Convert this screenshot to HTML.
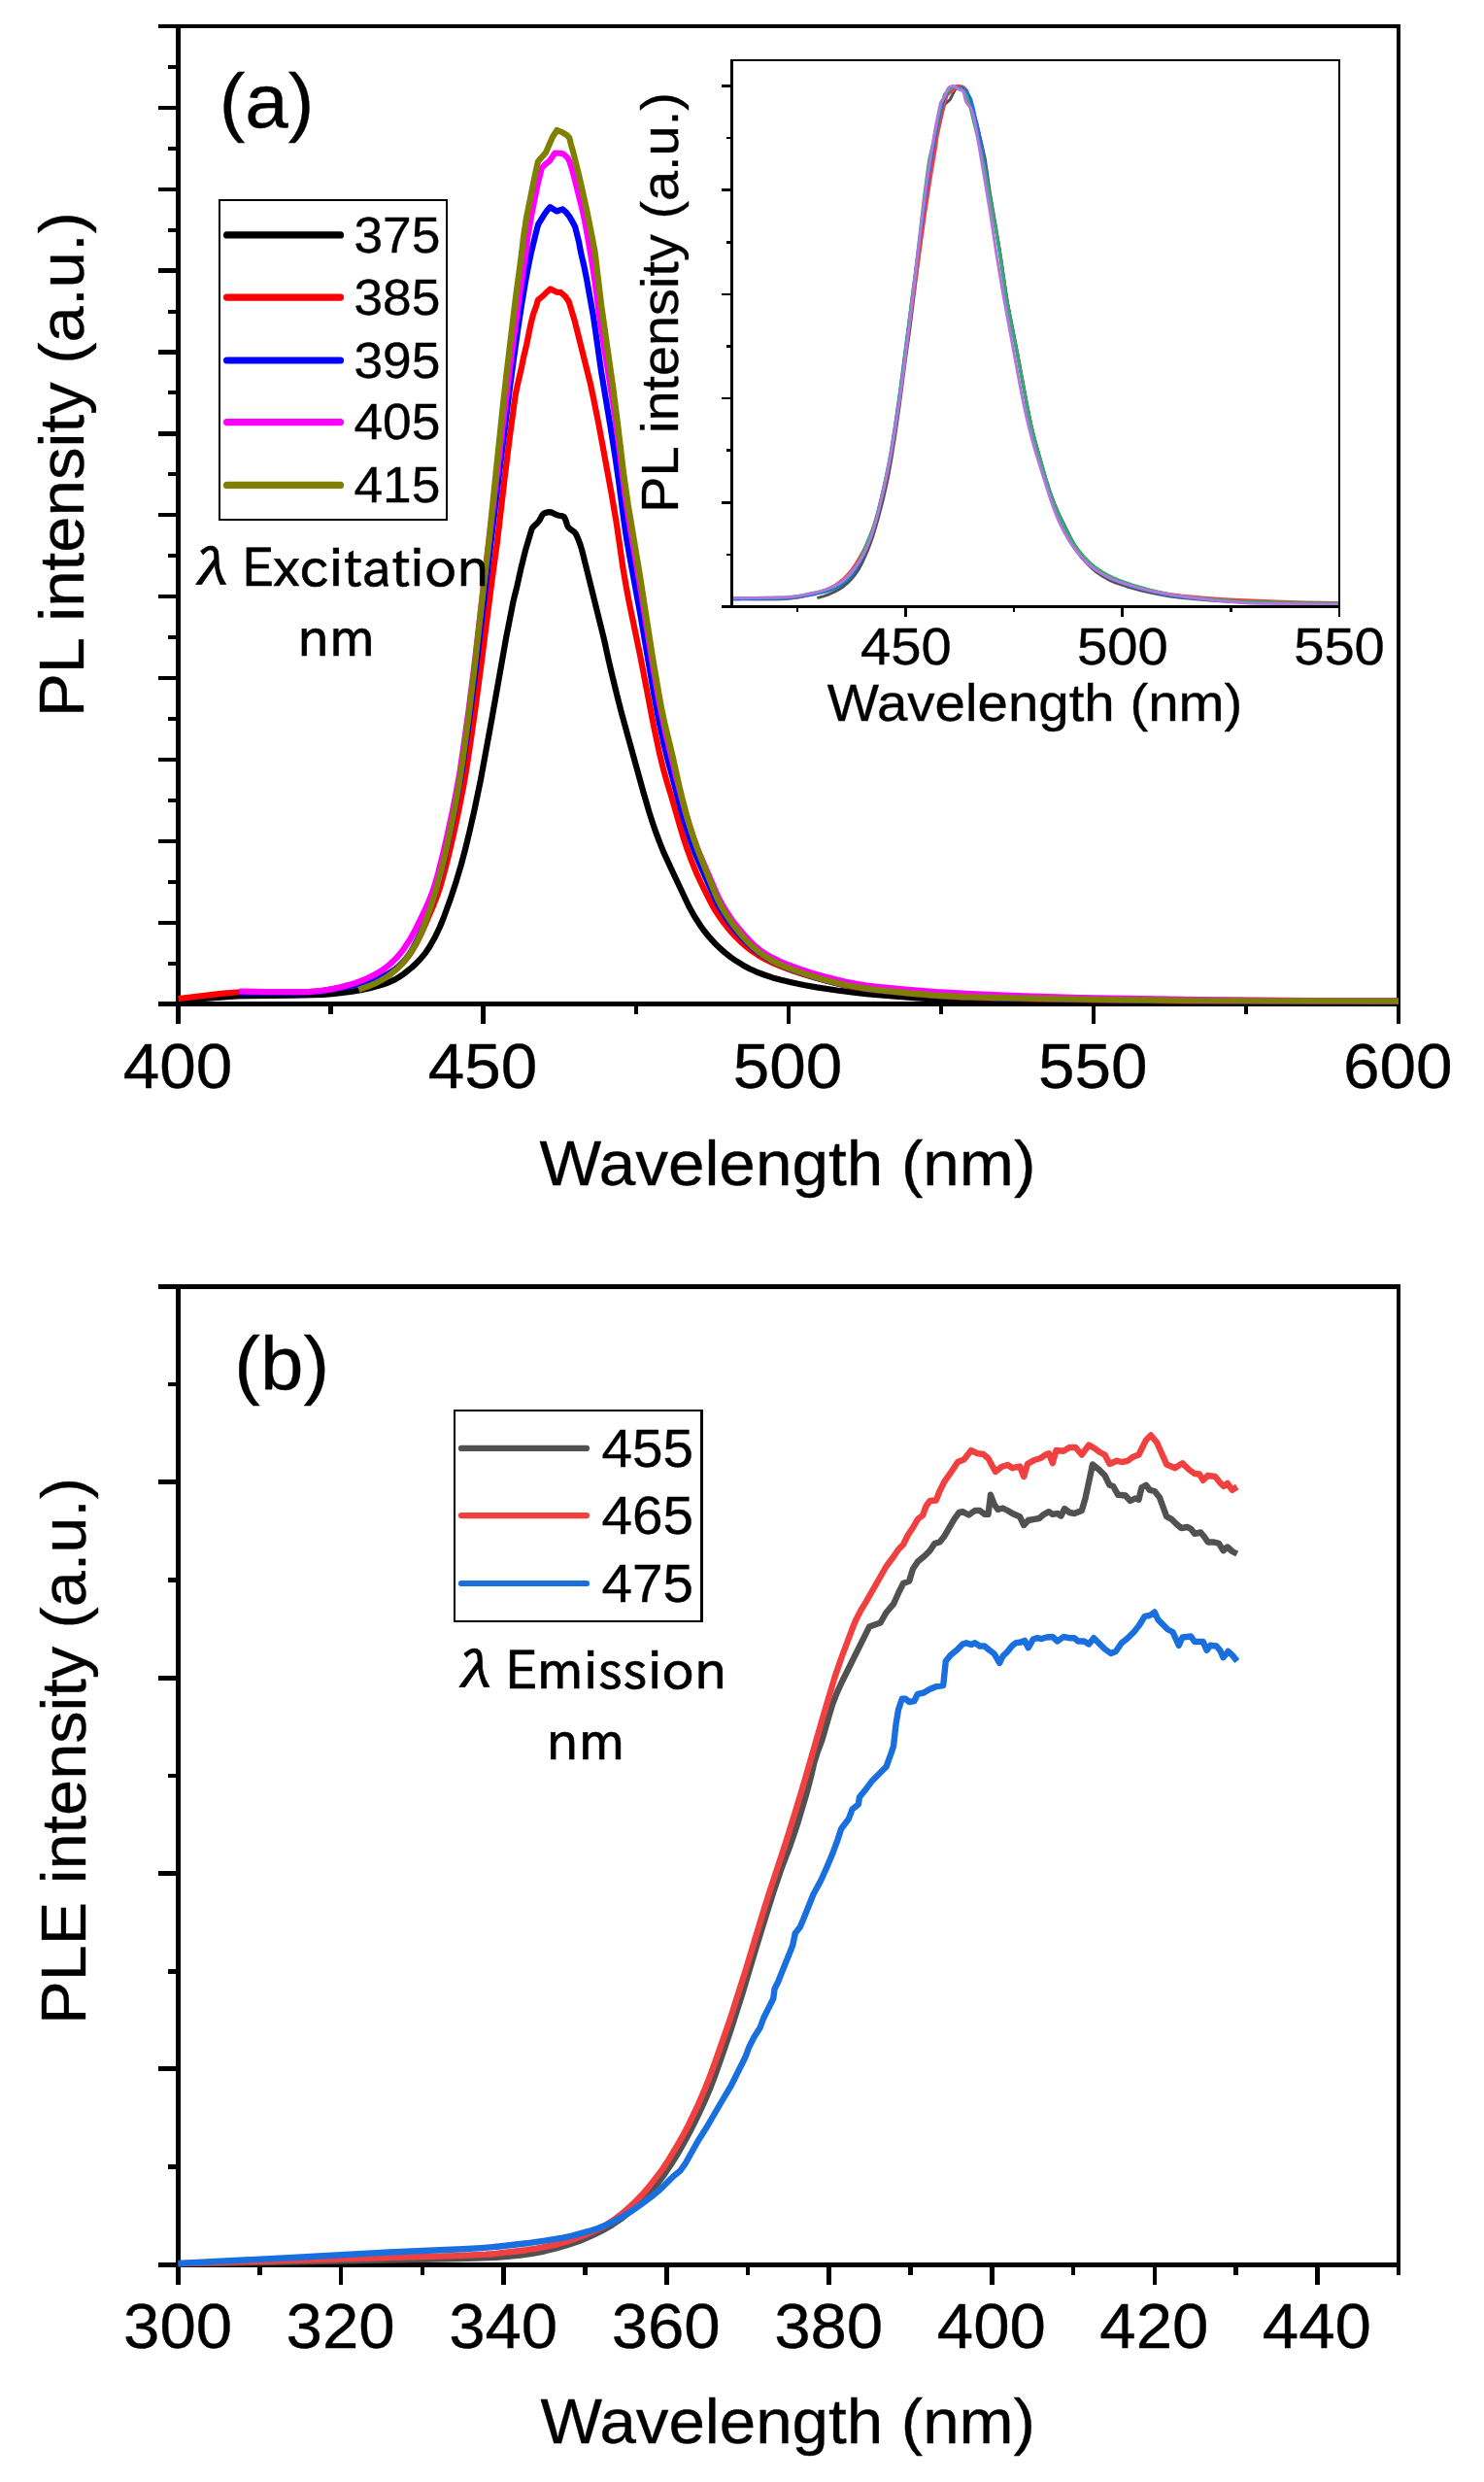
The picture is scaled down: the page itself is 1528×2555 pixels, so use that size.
<!DOCTYPE html>
<html lang="en"><head><meta charset="utf-8"><title>PL and PLE spectra</title>
<style>html,body{margin:0;padding:0;background:#fff}svg{display:block}text{font-family:"Liberation Sans", Arial, Helvetica, sans-serif;fill:#000;stroke:#000;stroke-width:.35px}.j{font-family:"IPAPGothic", "IPAGothic", "Noto Sans CJK JP", sans-serif;stroke-width:.7px}</style></head><body>
<svg width="1528" height="2555" viewBox="0 0 1528 2555">
<rect width="1528" height="2555" fill="#fff"/>
<g id="panel-a">
<g fill="#000" shape-rendering="crispEdges">
<rect x="181.1" y="24.6" width="5" height="1011.2"/>
<rect x="1437.9" y="24.6" width="4.2" height="1011.2"/>
<rect x="181.1" y="24.8" width="1261" height="4.3"/>
<rect x="181.1" y="1031.3" width="1261" height="4.6"/>
<rect x="163.1" y="24.8" width="18.4" height="4.3"/>
<rect x="163.1" y="108.6" width="18.4" height="4.3"/>
<rect x="163.1" y="192.5" width="18.4" height="4.3"/>
<rect x="163.1" y="276.4" width="18.4" height="4.3"/>
<rect x="163.1" y="360.3" width="18.4" height="4.3"/>
<rect x="163.1" y="444.2" width="18.4" height="4.3"/>
<rect x="163.1" y="528.1" width="18.4" height="4.3"/>
<rect x="163.1" y="611.9" width="18.4" height="4.3"/>
<rect x="163.1" y="695.8" width="18.4" height="4.3"/>
<rect x="163.1" y="779.7" width="18.4" height="4.3"/>
<rect x="163.1" y="863.6" width="18.4" height="4.3"/>
<rect x="163.1" y="947.5" width="18.4" height="4.3"/>
<rect x="163.1" y="1031.4" width="18.4" height="4.3"/>
<rect x="172.9" y="66.8" width="8.6" height="4"/>
<rect x="172.9" y="150.7" width="8.6" height="4"/>
<rect x="172.9" y="234.6" width="8.6" height="4"/>
<rect x="172.9" y="318.5" width="8.6" height="4"/>
<rect x="172.9" y="402.4" width="8.6" height="4"/>
<rect x="172.9" y="486.3" width="8.6" height="4"/>
<rect x="172.9" y="570.1" width="8.6" height="4"/>
<rect x="172.9" y="654" width="8.6" height="4"/>
<rect x="172.9" y="737.9" width="8.6" height="4"/>
<rect x="172.9" y="821.8" width="8.6" height="4"/>
<rect x="172.9" y="905.7" width="8.6" height="4"/>
<rect x="172.9" y="989.6" width="8.6" height="4"/>
<rect x="181.3" y="1033.5" width="4.6" height="20"/>
<rect x="495.4" y="1033.5" width="4.6" height="20"/>
<rect x="809.5" y="1033.5" width="4.6" height="20"/>
<rect x="1123.6" y="1033.5" width="4.6" height="20"/>
<rect x="1437.7" y="1033.5" width="4.6" height="20"/>
<rect x="338.4" y="1033.5" width="4.4" height="10"/>
<rect x="652.5" y="1033.5" width="4.4" height="10"/>
<rect x="966.6" y="1033.5" width="4.4" height="10"/>
<rect x="1280.8" y="1033.5" width="4.4" height="10"/>
</g>
<clipPath id="ca"><rect x="182.9" y="26.9" width="1257.6" height="1009"/></clipPath>
<g clip-path="url(#ca)" fill="none" stroke-width="6.2" stroke-linejoin="round" stroke-linecap="butt">
<path d="M183.6 1030 L230.2 1026.3 L243.7 1025.5 L255.7 1025.2 L302.4 1024.7 L332.5 1023.8 L341.5 1023.1 L350.5 1022.1 L362.5 1020.6 L371.4 1019.2 L381.6 1016.9 L393.2 1013.8 L400.3 1011.3 L407 1008.1 L410.8 1005.9 L415.8 1002.5 L424 995.9 L428.4 991.9 L431.5 988.7 L434.5 985.3 L437.3 981.9 L442.4 974.4 L447.6 965.3 L452.8 954.5 L457.3 943.3 L464 924.9 L469.6 907.7 L474.8 890.4 L479.4 872.9 L483.6 855.4 L488.3 834.8 L495 802.3 L506.4 740.1 L521 657.3 L528.5 619.1 L532.5 602.9 L536.7 583.9 L541.4 565.1 L547 546.4 L547.9 543.8 L549.6 541.7 L551.8 539.8 L553.7 537.8 L555.4 535.6 L556.8 533.2 L558.1 530.6 L559.9 528.7 L562.5 527.6 L565.3 527.1 L567.9 527.4 L570.5 528.8 L573 529.9 L575.7 530.7 L578.6 531.1 L580.7 532 L582.1 534.7 L583.1 537.4 L583.9 540.1 L584.9 542.5 L586.9 544.4 L591.5 547.8 L593.1 549.9 L595.4 555.1 L597.4 560.3 L599 565.6 L619.8 649.2 L622.4 660 L626.2 677.6 L629.6 692.3 L636 718.6 L640.1 734.6 L662.5 815.7 L668.4 835.9 L671.6 845.9 L675 855.9 L679.2 867.2 L683.1 876.9 L690.6 893.3 L709.2 932.7 L715 943.2 L721.5 953.3 L725.9 959.3 L730.7 965.2 L735.7 970.7 L741 975.9 L746.7 980.9 L752.6 985.5 L758.8 989.7 L765.2 993.7 L771.8 997.2 L778.6 1000.3 L787 1003.5 L795.5 1006.4 L804.2 1008.8 L815.9 1011.5 L827.7 1014 L841 1016.4 L861.8 1019.5 L881.2 1021.9 L894.6 1023.3 L941 1027.2 L975.5 1029.4 L989.1 1030.1 L1001.1 1030.4 L1100.3 1031.3 L1440 1031.8" stroke="#000000"/>
<path d="M183.6 1028 L229.9 1022.6 L243.3 1021.5 L255.3 1021.2 L310.9 1021.3 L318.4 1021.1 L325.9 1020.7 L333.4 1019.9 L342.3 1018.4 L361.5 1014.8 L373.2 1012.3 L383.3 1009.5 L391.8 1006.4 L399.8 1002.5 L403.6 1000.2 L407.3 997.6 L413 992.9 L416.1 989.7 L419 986.3 L421.7 982.7 L424.2 979 L429.4 969.9 L434 960.4 L446.5 931.5 L450.3 921.7 L453.2 913.2 L457.3 898.7 L462.5 878.3 L467.6 856.4 L472.6 832.8 L477.2 809.3 L480.3 791.5 L484.8 761.8 L490.1 724.6 L496.6 675.4 L505.9 602.3 L511.8 559.2 L520 489 L525 448.7 L530.2 410 L531.8 400.9 L537.2 377.2 L539.4 366.4 L542 355.7 L546.4 334.1 L549.1 323.3 L552.3 314.7 L553.9 308.8 L559.3 304.4 L563.6 300.1 L566.8 297.4 L573.3 300.7 L577.6 301.2 L581.9 305 L585.7 310.4 L591.6 329.8 L607.8 394.5 L611.1 410 L616.4 436.5 L629.5 507.5 L635 540.1 L641.7 586.2 L645 605.4 L648.1 621.6 L659.1 674.6 L673.3 748.4 L678.6 773.4 L683.2 792.4 L686 802.5 L692.5 824.1 L700.4 851.5 L703.9 863 L707.7 874.4 L711.3 884.3 L714.6 892.7 L717.5 899.6 L721.3 907.8 L730 925.3 L733.4 931.9 L736.4 937.1 L740.5 943.4 L744 948.3 L748.6 954.2 L753.4 959.9 L757.5 964.4 L762.8 969.6 L767.3 973.6 L773.2 978.2 L780.6 983.2 L788.5 987.7 L796.5 991.6 L806.2 995.7 L816.1 999.3 L827.5 1003.1 L840.4 1006.9 L852.1 1010.1 L865.2 1013.2 L875.5 1015.4 L885.8 1017.2 L894.8 1018.5 L905.2 1019.7 L944.1 1023.5 L972.6 1025.6 L996.6 1026.8 L1037.1 1027.9 L1094.2 1028.8 L1167.9 1029.9 L1219 1030.3 L1333.2 1030.8 L1439.9 1030.9" stroke="#ff0000"/>
<path d="M246.4 1022 L306.6 1021.7 L317.1 1021.4 L326.1 1020.8 L332 1020.1 L339.5 1019 L367.5 1013.5 L379.2 1010.8 L387.8 1008 L396 1004.5 L399.9 1002.3 L403.8 1000 L407.4 997.4 L410.8 994.5 L416 989.2 L418.8 985.7 L421.4 982.1 L423.8 978.3 L426.8 973.1 L431.4 963.7 L436.7 951.2 L442.6 935.7 L447.4 921.5 L451.6 907 L456.1 889.6 L461.2 867.6 L466.5 842.6 L471.9 814.5 L475.8 792.3 L482.2 747.6 L489.1 695.4 L514.3 484.8 L524.9 399.7 L529.3 366.9 L533.3 338.5 L536.9 314.8 L540.6 292.5 L543.6 276.2 L546.9 260 L552.8 235.9 L554.4 230.5 L560.4 220.8 L563.6 216.4 L566.3 213.2 L573.3 217.5 L579.2 215.4 L583 218.6 L586.3 222.9 L589.5 228.3 L592.2 233.7 L596 248.8 L598.1 260 L601.2 273.2 L603.9 286.4 L610.8 324.9 L613 339.7 L618.9 381.4 L628.3 437.7 L633.9 473.3 L637.1 495.6 L642.2 534.4 L644.8 552.2 L648.1 571.5 L659.5 633.5 L673.4 715 L678.7 743.1 L683.4 765.1 L686.6 778.2 L699.3 826.2 L703.3 840.7 L707.2 853.6 L711 865 L715 876.3 L721.3 891.6 L737.3 927.2 L740.1 932.5 L743.8 939 L747.1 944 L751.4 950.2 L756 956.1 L760.8 961.9 L765.9 967.4 L770.2 971.6 L776.9 977.5 L782.9 982 L789.2 986 L797.1 990.3 L805.2 994.2 L813.6 997.5 L824.9 1001.6 L837.8 1005.7 L849.3 1009 L861 1011.9 L872.7 1014.5 L884.5 1016.7 L893.4 1018.1 L903.9 1019.4 L941.2 1023 L969.7 1025.2 L993.7 1026.4 L1032.8 1027.6 L1083.9 1028.5 L1163.5 1029.6 L1217.6 1030.1 L1333.3 1030.6 L1440 1030.7" stroke="#0000ff"/>
<path d="M246.4 1020.5 L275 1021 L303.6 1021.2 L318.6 1020.9 L329.1 1020 L336.5 1019 L343.9 1017.6 L351.2 1016 L358.5 1014.1 L365.7 1011.9 L371.3 1009.8 L378.2 1007 L383.7 1004.4 L388.9 1001.6 L392.7 999.2 L396.4 996.6 L401.1 992.9 L404.4 989.9 L408.6 985.6 L412.5 981.1 L416.1 976.3 L421.9 967.5 L427.7 957 L438.2 935.3 L441.2 928.5 L444.1 921.5 L447.5 911.6 L451.2 898.6 L456 879.6 L460.7 859.1 L465.8 835.6 L470.4 811.9 L473.1 797.1 L476 777.8 L482.1 734.6 L488.2 686.9 L499 594.2 L518.4 432.9 L526.1 370.2 L534 310.6 L537.6 285.3 L541.5 260 L543.1 245.5 L545.3 232.6 L547.4 220.8 L553.9 188.4 L557.7 173.3 L561.5 169 L565.8 165.8 L571.2 157.7 L574.4 157.5 L579.8 158.2 L584.1 162 L586.3 165.8 L588.4 172.2 L591.1 181.9 L599.2 214.3 L601.9 226.1 L606.2 249.9 L611 279.3 L612.9 292.6 L616.8 322.4 L619.1 338.8 L627.9 393.7 L632.2 421.9 L636.5 453.2 L643.3 508.3 L647.6 536.6 L659 603.2 L671.8 683.3 L678.2 720.3 L681.7 738 L684.8 752.7 L697.2 803.8 L701.3 819.8 L705.7 835.7 L710 850.1 L714.3 862.9 L717.9 872.8 L721.3 881.2 L737.9 919.8 L741.1 926.5 L744 931.8 L747.9 938.2 L752 944.5 L756.4 950.5 L761.1 956.4 L767 963.2 L772.1 968.7 L777.5 973.9 L783.3 978.6 L788.2 981.9 L794.7 985.6 L802.8 989.5 L812.5 993.5 L823.8 997.6 L835.2 1001.4 L846.7 1004.7 L858.3 1007.8 L870.1 1010.5 L881.8 1012.8 L890.7 1014.2 L901.2 1015.6 L932.5 1018.7 L964 1021.2 L1000 1023.2 L1055.5 1025.4 L1112.6 1027 L1175.7 1028.2 L1235.8 1029.1 L1351.5 1030.1 L1440.1 1030.5" stroke="#ff00ff"/>
<path d="M369.3 1018.7 L379.2 1015.3 L387.5 1011.8 L395.4 1007.5 L401.6 1003.4 L407.4 998.7 L410.7 995.6 L413.8 992.4 L418.5 986.6 L423.7 979.2 L428.3 971.5 L432.8 962 L436.8 952.3 L441.9 938.2 L446.1 925.3 L450 912.3 L453.8 897.8 L458.1 880.3 L461.6 864.1 L465.3 846.4 L469 827.3 L472.5 808 L476.6 781.3 L482.4 738 L488.9 684.3 L498 602.1 L503.3 557.3 L517.9 416.7 L521.8 382.3 L530.8 307.7 L537.2 260 L538.8 245.5 L542 224 L550.7 180.9 L553.9 166.3 L562 157.1 L569 141 L573.5 134 L578.7 136.1 L584.1 139.4 L586.3 142 L587.9 148.5 L590.6 158.2 L596 179.8 L604 215.4 L609.4 242.3 L612.7 260 L619.3 315.2 L631.4 400 L635.6 432.8 L642.4 489.5 L646.7 519.3 L658.6 590.4 L671.5 673.6 L678.3 713.6 L681.3 729.8 L684.4 744.5 L692.5 778.1 L699.7 810.4 L703.3 825 L706.7 838.1 L710.5 851.1 L714.1 862.5 L719.7 878.1 L736.9 921.3 L740.1 928.1 L742.9 933.4 L746.7 939.9 L750.8 946.1 L755.2 952.3 L759.8 958.2 L764.6 964 L769.6 969.5 L776.1 975.7 L781.9 980.5 L788 984.7 L794.4 988.6 L802.5 992.6 L810.7 996.1 L820.6 999.8 L833.4 1004.1 L846.4 1007.9 L858 1011 L869.7 1013.7 L881.5 1016 L891.9 1017.6 L902.3 1019 L938.2 1022.6 L966.7 1024.8 L990.7 1026.1 L1028.2 1027.2 L1077.8 1028.2 L1162 1029.4 L1216.1 1029.9 L1331.8 1030.3 L1440 1030.5" stroke="#808000"/>
</g>
<text transform="translate(182.9 1120.3) scale(1.03 1)" font-size="65.5" text-anchor="middle">400</text>
<text transform="translate(497 1120.3) scale(1.03 1)" font-size="65.5" text-anchor="middle">450</text>
<text transform="translate(811.1 1120.3) scale(1.03 1)" font-size="65.5" text-anchor="middle">500</text>
<text transform="translate(1125.2 1120.3) scale(1.03 1)" font-size="65.5" text-anchor="middle">550</text>
<text transform="translate(1439.3 1120.3) scale(1.03 1)" font-size="65.5" text-anchor="middle">600</text>
<text transform="translate(811 1219.6) scale(1.03 1)" font-size="65.5" text-anchor="middle">Wavelength (nm)</text>
<text transform="translate(86.3 478) rotate(-90) scale(1.025 1)" font-size="65.5" text-anchor="middle">PL intensity (a.u.)</text>
<text transform="translate(274.5 131) scale(1.025 1)" font-size="78" text-anchor="middle">(a)</text>
<rect x="226.2" y="206.2" width="234" height="329.1" fill="#fff" stroke="#000" stroke-width="2.1" shape-rendering="crispEdges"/>
<line x1="233.6" y1="241.9" x2="350.5" y2="241.9" stroke="#000000" stroke-width="7.2" stroke-linecap="round"/>
<text transform="translate(408.9 259.7) scale(1.045 1)" font-size="51" text-anchor="middle">375</text>
<line x1="233.6" y1="306.1" x2="350.5" y2="306.1" stroke="#ff0000" stroke-width="7.2" stroke-linecap="round"/>
<text transform="translate(408.9 323.9) scale(1.045 1)" font-size="51" text-anchor="middle">385</text>
<line x1="233.6" y1="371" x2="350.5" y2="371" stroke="#0000ff" stroke-width="7.2" stroke-linecap="round"/>
<text transform="translate(408.9 388.8) scale(1.045 1)" font-size="51" text-anchor="middle">395</text>
<line x1="233.6" y1="434.6" x2="350.5" y2="434.6" stroke="#ff00ff" stroke-width="7.2" stroke-linecap="round"/>
<text transform="translate(408.9 452.4) scale(1.045 1)" font-size="51" text-anchor="middle">405</text>
<line x1="233.6" y1="499.4" x2="350.5" y2="499.4" stroke="#808000" stroke-width="7.2" stroke-linecap="round"/>
<text transform="translate(408.9 517.2) scale(1.045 1)" font-size="51" text-anchor="middle">415</text>
<text class="j" y="604" font-size="55" stroke="#000" stroke-width="0.7"><tspan x="191">λ </tspan><tspan x="248.7" textLength="255" lengthAdjust="spacingAndGlyphs">Excitation</tspan></text>
<text class="j" transform="translate(346.2 676.2)" font-size="55" text-anchor="middle" textLength="80" lengthAdjust="spacingAndGlyphs" stroke="#000" stroke-width="0.7">nm</text>
<rect x="753.6" y="62" width="625.2" height="562.4" fill="#fff"/>
<clipPath id="ci"><rect x="753.6" y="62" width="625.2" height="562.4"/></clipPath>
<g clip-path="url(#ci)" fill="none" stroke-width="3" stroke-linejoin="round">
<path d="M841.4 615.6 L848.5 613.6 L854.3 611.5 L859.9 608.9 L864.4 606.5 L868.5 603.7 L873 599.9 L876.4 596.5 L880 592.1 L883.3 587.5 L886.5 581.8 L889.3 576 L893 567.6 L896 559.9 L898.7 552.2 L901.4 543.6 L904.4 533.1 L909.6 513 L914.7 490.1 L917.6 474.1 L921.7 448.4 L926.4 416.4 L932.8 367.4 L936.6 340.7 L947 256.9 L949.7 236.5 L956.1 192 L960.7 163.6 L961.8 154.9 L964.1 142.1 L970.2 116.4 L972.5 107.7 L978.3 102.3 L983.2 92.7 L986.4 88.5 L990.1 89.8 L994 91.7 L995.5 93.3 L998.6 102.9 L1004.3 122.8 L1010 144.7 L1014.3 163.6 L1019.3 198.2 L1025.4 233.7 L1028.8 255 L1035 297.6 L1037.1 310.9 L1047.4 363.1 L1057.7 418.8 L1061.2 435.6 L1064.5 449.6 L1077.8 497.6 L1081.3 508.8 L1084.7 518.3 L1089.5 530.1 L1101.3 555.1 L1104.8 561.6 L1108.9 567.9 L1112.4 572.4 L1116.1 576.7 L1120.1 580.9 L1124.3 585 L1128 588.2 L1132 591.1 L1135.3 593.3 L1139.7 595.8 L1144.3 598.1 L1149.1 600 L1159.9 603.7 L1176.2 608.2 L1191.6 611.6 L1205.2 614 L1217.9 615.5 L1245.5 617.9 L1268.9 619.4 L1284.9 620.1 L1307.3 620.6 L1380.9 621.7" stroke="#515151"/>
<path d="M755.2 616.5 L775.5 616.8 L795.8 616.8 L805.4 616.7 L812.8 616.2 L823.3 614.7 L833.7 612.5 L842.8 609.9 L851.6 606.6 L858 603.4 L864 599.5 L869.3 595.1 L874.7 589.4 L878.8 584 L882.9 577.6 L890.3 564.4 L894.5 555.9 L896.9 549.8 L899.5 541.8 L903 530.3 L906.3 517.7 L909.9 503.3 L913.2 488.9 L915.1 479.8 L917.2 468 L921.5 441.6 L925.8 412.3 L933.5 355.7 L952.8 218.6 L958.4 182.2 L963.7 151.2 L964.8 142.3 L966.4 134.4 L967.9 127.2 L972.5 107.4 L975.2 98.2 L977.9 95.5 L981 93.6 L984.8 88.6 L987.1 88.5 L990.9 88.9 L994 91.3 L995.5 93.6 L997 97.5 L998.9 103.4 L1004.7 123.2 L1006.6 130.5 L1009.7 145 L1013.1 163 L1018.7 198.5 L1028.3 251.2 L1031.3 270.3 L1035.8 301.3 L1038 314.9 L1047.5 363 L1058.2 420.1 L1061.8 437.3 L1065.1 450.8 L1076.9 492.8 L1081.2 506.1 L1085.4 517.4 L1091 530.4 L1102.3 553.2 L1106 559.8 L1110.3 566.1 L1113.3 569.9 L1117 574.4 L1124.6 582.1 L1128.2 585.4 L1132.1 588.5 L1135.4 590.8 L1138.9 592.8 L1143.5 595.1 L1148.3 597.1 L1160.2 601.2 L1175.4 605.5 L1191.9 609.3 L1204.4 611.6 L1216 613.1 L1240.4 615.3 L1260.6 616.7 L1283 617.8 L1312.8 618.9 L1344.8 619.9 L1380 620.6" stroke="#f14040"/>
<path d="M755.2 616.9 L796.8 616.7 L804.3 616.5 L810.7 616.1 L820.2 614.9 L840.1 611.4 L848.4 609.6 L854.5 607.8 L860.4 605.4 L865.9 602.5 L870.9 598.9 L874.6 595.5 L878.4 590.8 L882.2 584.9 L886 577.9 L889.7 569.7 L893.8 559.6 L897.2 550.3 L900.1 540.8 L903.3 529.4 L906.9 515 L910.7 498.7 L914.5 480.4 L917 466.8 L921.6 437.6 L926.5 403.5 L944.4 265.9 L951.9 210.3 L957.7 171.4 L962.9 141.3 L967.5 119.1 L971.7 103.3 L972.9 99.8 L977.1 93.5 L981.3 88.5 L986.3 91.3 L990.5 89.9 L993.2 92 L995.5 94.8 L997.8 98.4 L999.7 101.9 L1002.4 111.8 L1003.9 119.1 L1006.1 127.7 L1008 136.3 L1013.2 163.4 L1018.7 198.4 L1025.4 235.2 L1029.2 257.5 L1031.5 272 L1035.4 299.3 L1037.8 313.9 L1047.3 362.1 L1057.6 417.3 L1060.5 431.8 L1063.1 443.3 L1066.5 456.7 L1076.3 490.9 L1080.8 505 L1084.8 516.2 L1087.7 523.6 L1090.6 529.9 L1101.9 553.2 L1105.8 560.1 L1110.3 566.8 L1114.1 571.5 L1117.4 575.4 L1121.6 579.8 L1125.3 583.3 L1129.3 586.6 L1132.6 589 L1136.9 591.8 L1141.5 594.4 L1146.2 596.6 L1151 598.7 L1157 600.9 L1164 603.2 L1180.3 607.9 L1195.8 611.4 L1208.4 613.6 L1221.1 615.2 L1247.6 617.6 L1271.1 619.2 L1286 619.8 L1309.4 620.4 L1380.9 621.6" stroke="#1a6fdf"/>
<path d="M755.1 615.5 L799.9 615.5 L806.3 615.3 L811.7 615 L821.2 613.6 L836.9 610.5 L846.3 608.5 L852.4 606.6 L858.3 604.3 L864 601.3 L869.2 597.6 L873.2 594.1 L876.7 590 L880.4 584.7 L884.1 578.1 L887.8 570.2 L897.8 546.1 L900.3 538.9 L902.8 530.5 L906.8 514.6 L911.2 495.4 L915.6 474 L919.2 454.7 L923.8 424.4 L929.5 382.1 L938.3 311.6 L942.7 278 L951.8 199.8 L955.7 170.5 L956.8 163.9 L960.7 146.6 L962.2 138.7 L964.1 130.9 L967.2 115.2 L969.1 107.4 L971.4 101.1 L972.5 96.8 L976.4 93.6 L979.4 90.5 L981.7 88.5 L986.3 90.9 L989.4 91.3 L992.4 94 L995.1 98 L999.3 112.1 L1010.8 159.2 L1016.7 188.7 L1026 240.3 L1030.4 267.3 L1035.4 302 L1037.8 316 L1047.2 363.1 L1058.2 421.1 L1061.8 438.2 L1065.2 452 L1078.1 497.2 L1081.7 508.6 L1085.4 518.9 L1090.5 530.9 L1099 548.5 L1103.3 556.1 L1108.8 564.1 L1112.8 569.2 L1116.4 573.3 L1120.1 577.1 L1124.1 580.8 L1127.4 583.5 L1131.8 586.6 L1136.3 589.4 L1141 592 L1145.8 594.4 L1151.7 596.9 L1158.7 599.5 L1165.8 601.9 L1182.2 606.8 L1198.8 610.8 L1210.4 612.9 L1223.1 614.5 L1249.7 617.1 L1273.1 618.9 L1288 619.5 L1311.5 620.2 L1380.9 621.4" stroke="#37ad6b"/>
<path d="M754.3 615.8 L795 615 L809.9 614.5 L817.4 613.9 L825.9 612.8 L837.6 610.5 L845 608.6 L852.2 606.1 L859.4 603.1 L864.4 600.3 L869.1 596.8 L873.5 592.5 L879.4 585.7 L884.9 578.1 L889.1 571 L892.7 563.3 L896.5 553.7 L899.8 543.7 L903.2 531.9 L906.5 518.5 L910.7 500.4 L915.1 479.1 L917.7 465.3 L921.1 445.2 L926.4 411 L930.9 378.2 L938.8 314 L949.1 226.3 L954.5 185.9 L963.6 128.7 L968.3 106.2 L969.5 104 L971 102 L972.4 99.8 L973.6 97.5 L975.5 92.2 L976.8 90.3 L978.6 89.1 L980.6 88.5 L982.5 88.8 L986.1 91.5 L988 92.4 L990.1 92.7 L991.5 93.7 L992.6 96.6 L993.8 102.3 L994.6 104.9 L996 106.9 L999.2 110.5 L1000.4 112.7 L1003.4 123.7 L1004.5 129.3 L1019.3 217.7 L1026 261.8 L1033.2 305 L1049.4 392.4 L1053.2 412.3 L1057.1 430.5 L1062.3 451.3 L1065.6 463.1 L1070.9 480.4 L1081.9 514.9 L1086.4 527.5 L1090.9 538.2 L1096 548.4 L1100.9 556.8 L1106.2 564.6 L1112.8 572.6 L1117.1 577.2 L1120.7 580.6 L1124.4 583.8 L1128.2 586.7 L1132.1 589.2 L1137.1 592.2 L1142.1 594.8 L1146.2 596.6 L1151.3 598.6 L1157.6 600.8 L1171.2 604.9 L1179.6 607.1 L1187 608.7 L1206 612.3 L1219.8 614.3 L1250.7 618.1 L1278.4 620.5 L1285.9 621 L1295.5 621.2 L1356.3 622 L1380.9 622.1" stroke="#b177de"/>
</g>
<g fill="#000" shape-rendering="crispEdges">
<rect x="752.3" y="60.7" width="2.6" height="565"/>
<rect x="1377.5" y="60.7" width="2.6" height="565"/>
<rect x="752.3" y="60.7" width="627.8" height="2.6"/>
<rect x="752.3" y="623.1" width="627.8" height="2.6"/>
<rect x="743.1" y="87.2" width="10.5" height="2.6"/>
<rect x="743.1" y="194.4" width="10.5" height="2.6"/>
<rect x="743.1" y="301.6" width="10.5" height="2.6"/>
<rect x="743.1" y="408.7" width="10.5" height="2.6"/>
<rect x="743.1" y="515.9" width="10.5" height="2.6"/>
<rect x="743.1" y="623.1" width="10.5" height="2.6"/>
<rect x="748" y="140.9" width="5.6" height="2.4"/>
<rect x="748" y="248.1" width="5.6" height="2.4"/>
<rect x="748" y="355.2" width="5.6" height="2.4"/>
<rect x="748" y="462.4" width="5.6" height="2.4"/>
<rect x="748" y="569.6" width="5.6" height="2.4"/>
<rect x="931.2" y="624.4" width="2.7" height="10.4"/>
<rect x="1154.4" y="624.4" width="2.7" height="10.4"/>
<rect x="1377.5" y="624.4" width="2.7" height="10.4"/>
<rect x="819.8" y="624.4" width="2.5" height="5.6"/>
<rect x="1042.9" y="624.4" width="2.5" height="5.6"/>
<rect x="1266" y="624.4" width="2.5" height="5.6"/>
</g>
<text transform="translate(932.8 684.3) scale(1.04 1)" font-size="54" text-anchor="middle">450</text>
<text transform="translate(1155.9 684.3) scale(1.04 1)" font-size="54" text-anchor="middle">500</text>
<text transform="translate(1379 684.3) scale(1.04 1)" font-size="54" text-anchor="middle">550</text>
<text transform="translate(1065.6 742.3) scale(1.036 1)" font-size="54.5" text-anchor="middle">Wavelength (nm)</text>
<text transform="translate(698 311.5) rotate(-90) scale(1.025 1)" font-size="54.5" text-anchor="middle">PL intensity (a.u.)</text>
</g>
<g id="panel-b">
<g fill="#000" shape-rendering="crispEdges">
<rect x="181.1" y="1321.9" width="5" height="1011.6"/>
<rect x="1438" y="1321.9" width="4.3" height="1011.6"/>
<rect x="181.1" y="1321.9" width="1261.1" height="5"/>
<rect x="181.1" y="2328.9" width="1261.1" height="4.6"/>
<rect x="163.1" y="1322" width="18.4" height="4.8"/>
<rect x="163.1" y="1523.4" width="18.4" height="4.8"/>
<rect x="163.1" y="1724.7" width="18.4" height="4.8"/>
<rect x="163.1" y="1926.1" width="18.4" height="4.8"/>
<rect x="163.1" y="2127.4" width="18.4" height="4.8"/>
<rect x="163.1" y="2328.8" width="18.4" height="4.8"/>
<rect x="172.9" y="1422.8" width="8.6" height="4.6"/>
<rect x="172.9" y="1624.1" width="8.6" height="4.6"/>
<rect x="172.9" y="1825.5" width="8.6" height="4.6"/>
<rect x="172.9" y="2026.9" width="8.6" height="4.6"/>
<rect x="172.9" y="2228.2" width="8.6" height="4.6"/>
<rect x="181.3" y="2331.2" width="4.6" height="20.4"/>
<rect x="348.8" y="2331.2" width="4.6" height="20.4"/>
<rect x="516.4" y="2331.2" width="4.6" height="20.4"/>
<rect x="683.9" y="2331.2" width="4.6" height="20.4"/>
<rect x="851.4" y="2331.2" width="4.6" height="20.4"/>
<rect x="1019" y="2331.2" width="4.6" height="20.4"/>
<rect x="1186.5" y="2331.2" width="4.6" height="20.4"/>
<rect x="1354" y="2331.2" width="4.6" height="20.4"/>
<rect x="265.2" y="2331.2" width="4.4" height="10.3"/>
<rect x="432.7" y="2331.2" width="4.4" height="10.3"/>
<rect x="600.2" y="2331.2" width="4.4" height="10.3"/>
<rect x="767.8" y="2331.2" width="4.4" height="10.3"/>
<rect x="935.3" y="2331.2" width="4.4" height="10.3"/>
<rect x="1102.8" y="2331.2" width="4.4" height="10.3"/>
<rect x="1270.4" y="2331.2" width="4.4" height="10.3"/>
<rect x="1437.9" y="2331.2" width="4.4" height="10.3"/>
</g>
<clipPath id="cb"><rect x="182.9" y="1324.4" width="1257.7" height="1009.2"/></clipPath>
<g clip-path="url(#cb)" fill="none" stroke-width="6.4" stroke-linejoin="round" stroke-linecap="butt">
<path d="M183.6 2330.5 L309.3 2328.3 L472.6 2325.1 L497.7 2324.3 L510.3 2323.7 L522.8 2322.7 L535.3 2321.5 L547.8 2319.8 L560.1 2317.5 L572.4 2314.5 L584.4 2311 L596.3 2307 L607.9 2302.1 L619.2 2296.6 L630.2 2290.4 L640.5 2283.3 L650.3 2275.4 L659.5 2266.8 L668.3 2257.8 L676.6 2248.4 L684.1 2238.3 L691.1 2227.8 L697.7 2217.2 L704 2206.2 L709.9 2195.2 L715.6 2184 L721.1 2172.6 L726.3 2161.2 L731.2 2149.6 L735.7 2137.9 L744.1 2114.2 L752.2 2090.4 L763.7 2054.5 L778.1 2006.3 L789.2 1970.3 L796.8 1946.3 L804.9 1922.5 L813.8 1899 L817.9 1887.2 L821.8 1875.2 L829 1851.1 L832.4 1839 L835.5 1826.8 L838.3 1814.5 L842.1 1802.6 L846.5 1790.8 L853.5 1766.6 L857.1 1754.6 L861.6 1742.9 L866.8 1731.5 L895.2 1674.4 L906.5 1670.5 L912.5 1660 L920 1651.2 L925 1640 L930 1630 L936.2 1627.5 L940 1615 L945 1607.5 L952.5 1601.2 L957.5 1596.2 L962.5 1588.8 L967.5 1587.5 L972.5 1581.2 L982.5 1563.8 L987.5 1557 L991.2 1556.2 L997.5 1559.5 L1003.8 1555 L1008.8 1555 L1013.8 1558.8 L1017.5 1558.8 L1020 1538.8 L1023.8 1548.8 L1027.5 1553.8 L1032.5 1552.5 L1037.5 1555 L1042.5 1558 L1050 1561.2 L1054.2 1570 L1058.8 1565 L1065 1563.8 L1070 1563 L1075 1558.8 L1080 1556.2 L1083.8 1558.8 L1088.8 1558 L1092.5 1560.5 L1096.2 1553 L1101.2 1557 L1106.2 1558 L1113.8 1555 L1117.5 1542.5 L1125 1507.5 L1131.2 1512.5 L1137.5 1518.8 L1142.5 1528.8 L1146.2 1530 L1151.2 1538.8 L1158.8 1539.5 L1163.8 1545 L1168.8 1542.5 L1172.5 1543.8 L1175.5 1531.2 L1180 1528.8 L1183.8 1533.8 L1188.8 1535 L1193.8 1541.2 L1201.2 1561.2 L1206.2 1563.8 L1211.2 1568.8 L1216.2 1573 L1222.5 1572 L1226.2 1573.8 L1230 1578.8 L1236.2 1577.5 L1240 1582 L1243.8 1587.5 L1250 1587.5 L1255 1588.8 L1259.5 1596.2 L1263.8 1592.5 L1268.8 1597 L1273.8 1599.5" stroke="#515151"/>
<path d="M183.6 2330.2 L468.3 2322.1 L499.9 2320.8 L510.4 2319.9 L531.4 2317.5 L541.8 2316.2 L552.3 2314.6 L562.6 2312.7 L572.9 2310.5 L583.1 2307.7 L593.1 2304.3 L602.9 2300.5 L612.6 2296.2 L622.1 2291.6 L631 2286 L639.4 2279.6 L647.4 2272.8 L655 2265.5 L662.4 2257.9 L669.2 2249.9 L682 2233.1 L687.9 2224.3 L698.7 2206.2 L703.9 2197 L708.8 2187.7 L717.9 2168.7 L726.3 2149.3 L730.2 2139.5 L737.4 2119.7 L751.3 2079.9 L767.3 2029.6 L785.6 1969 L791.9 1948.9 L808.4 1898.8 L817.8 1868.6 L827 1838.3 L847.4 1767.4 L859.4 1726.9 L866.2 1707 L877.3 1677.3 L881.3 1667.5 L886.1 1658.2 L891.6 1649.1 L912.5 1612.5 L920 1602.5 L925 1595 L930 1590 L935 1580 L940 1572.5 L945 1563.8 L950 1560 L953.8 1550 L957.5 1545 L963.8 1544.5 L967.5 1535 L972.5 1525 L978.8 1516.2 L986.2 1505 L992.5 1502.5 L1000 1493 L1006.2 1496.2 L1012.5 1497 L1017.5 1501.2 L1025 1515 L1031.2 1510 L1037.5 1508 L1042.5 1511.2 L1050 1509.5 L1054.2 1520 L1058 1507 L1065 1503 L1071.2 1501.2 L1077.5 1497 L1080 1496.2 L1083.8 1506.2 L1087.5 1493 L1095 1493.8 L1101.2 1490 L1107.5 1490 L1113.8 1497.5 L1121.2 1487.5 L1127.5 1491.2 L1132.5 1495 L1137.5 1497.5 L1142.5 1507 L1150 1503.8 L1155 1505 L1161.2 1503.8 L1166.2 1500 L1172.5 1497.5 L1180 1482.5 L1185 1477.5 L1191.2 1485 L1201.2 1507.5 L1210 1511.2 L1217.5 1506.2 L1223.8 1512.5 L1230 1517 L1235 1517.5 L1238.8 1523.8 L1243.8 1518.8 L1251.2 1520 L1256.2 1526.2 L1260 1530 L1263.8 1527 L1268.8 1533.8 L1273.8 1530.5" stroke="#f14040"/>
<path d="M183.6 2330 L296.9 2324.2 L400.7 2318.5 L476.3 2315.2 L495.1 2314.1 L504.6 2313.4 L514 2312.5 L542.1 2309.3 L560.9 2306.7 L579.5 2303.7 L588.8 2301.7 L607 2296.7 L616 2293.7 L624.7 2290.1 L633.2 2286 L641.5 2281.5 L649.6 2276.5 L657.4 2271.2 L672.6 2259.9 L679.8 2253.8 L693.1 2240.4 L700.5 2234.5 L705.9 2226.8 L718.8 2203.8 L727.5 2190 L745 2160 L752.5 2147.5 L767.5 2117.5 L771.2 2107.5 L776.2 2097.5 L782.5 2087.5 L786.2 2077.5 L796.2 2057.5 L797.5 2047.5 L801.2 2040 L816.2 2002.5 L818.8 1990 L823.8 1983.8 L827.5 1975 L837.5 1950 L845 1936.2 L851.2 1922.5 L857.5 1907.5 L862.5 1893.8 L866.2 1882.5 L873.8 1872.5 L877.5 1862.5 L883.8 1857.5 L885 1850 L890 1843.8 L897.5 1833.8 L912.5 1818.8 L917.5 1805 L920 1797.5 L922.5 1775 L925 1760 L928.8 1748.8 L932.5 1748.8 L936.2 1752 L941.2 1751.2 L945 1743.8 L951.2 1742.5 L957.5 1738.8 L963.8 1736.2 L971.2 1735 L973.8 1710 L978.8 1703.8 L985 1698.8 L991.2 1692.5 L995 1691.2 L1000 1693 L1003.8 1691.2 L1008.8 1694.5 L1013.8 1694.5 L1018.8 1698.8 L1023.8 1702.5 L1029.2 1712 L1032.5 1705 L1037.5 1700 L1042.5 1693.8 L1046.2 1691.2 L1051.2 1690.5 L1055 1688.8 L1058.8 1696.2 L1063.8 1687.5 L1067.5 1686.2 L1072.5 1687 L1077.5 1685.5 L1083.8 1685 L1088.8 1689.5 L1095 1685 L1101.2 1686.2 L1106.2 1686.2 L1110 1689.5 L1116.2 1689.5 L1121.2 1692.5 L1126.2 1686.2 L1137.5 1697.5 L1143.8 1702 L1148.8 1700 L1155 1691.2 L1161.2 1686.2 L1167.5 1680 L1172.5 1673.8 L1178.8 1663.8 L1183.8 1663 L1188.8 1659.5 L1192.5 1667.5 L1202.5 1677.5 L1207.5 1680 L1213.8 1693.8 L1217.5 1685.5 L1226.2 1684.5 L1230 1690 L1238.8 1690 L1242.5 1698.8 L1246.2 1693.8 L1252.5 1694.5 L1256.2 1698.8 L1259.5 1706.2 L1264.5 1700 L1268.8 1703.8 L1273.8 1710" stroke="#1a6fdf"/>
</g>
<text transform="translate(183.1 2417.2) scale(1.025 1)" font-size="65.5" text-anchor="middle">300</text>
<text transform="translate(350.6 2417.2) scale(1.025 1)" font-size="65.5" text-anchor="middle">320</text>
<text transform="translate(518.2 2417.2) scale(1.025 1)" font-size="65.5" text-anchor="middle">340</text>
<text transform="translate(685.7 2417.2) scale(1.025 1)" font-size="65.5" text-anchor="middle">360</text>
<text transform="translate(853.2 2417.2) scale(1.025 1)" font-size="65.5" text-anchor="middle">380</text>
<text transform="translate(1020.8 2417.2) scale(1.025 1)" font-size="65.5" text-anchor="middle">400</text>
<text transform="translate(1188.3 2417.2) scale(1.025 1)" font-size="65.5" text-anchor="middle">420</text>
<text transform="translate(1355.8 2417.2) scale(1.025 1)" font-size="65.5" text-anchor="middle">440</text>
<text transform="translate(811.2 2514.6) scale(1.027 1)" font-size="65.5" text-anchor="middle">Wavelength (nm)</text>
<text transform="translate(87.9 1802.3) rotate(-90) scale(1.017 1)" font-size="65.5" text-anchor="middle">PLE intensity (a.u.)</text>
<text transform="translate(290.2 1430.6) scale(1.025 1)" font-size="78" text-anchor="middle">(b)</text>
<rect x="468.3" y="1452" width="254.3" height="217.1" fill="#fff" stroke="#000" stroke-width="2.3" shape-rendering="crispEdges"/>
<line x1="475" y1="1490.9" x2="604" y2="1490.9" stroke="#515151" stroke-width="6.2" stroke-linecap="round"/>
<text transform="translate(666.7 1509.7) scale(1.03 1)" font-size="55" text-anchor="middle">455</text>
<line x1="475" y1="1560.1" x2="604" y2="1560.1" stroke="#f14040" stroke-width="6.2" stroke-linecap="round"/>
<text transform="translate(666.7 1578.9) scale(1.03 1)" font-size="55" text-anchor="middle">465</text>
<line x1="475" y1="1630" x2="604" y2="1630" stroke="#1a6fdf" stroke-width="6.2" stroke-linecap="round"/>
<text transform="translate(666.7 1648.8) scale(1.03 1)" font-size="55" text-anchor="middle">475</text>
<text class="j" y="1738.8" font-size="55" stroke="#000" stroke-width="0.7"><tspan x="462.2">λ </tspan><tspan x="519.9" textLength="228.4" lengthAdjust="spacingAndGlyphs">Emission</tspan></text>
<text class="j" transform="translate(603.1 1811.8)" font-size="55" text-anchor="middle" textLength="81" lengthAdjust="spacingAndGlyphs" stroke="#000" stroke-width="0.7">nm</text>
</g>
</svg></body></html>
